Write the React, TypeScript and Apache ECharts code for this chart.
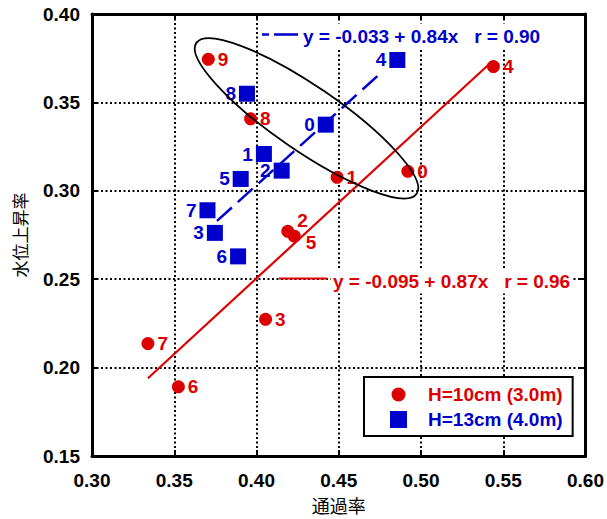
import React, { useEffect, useRef } from 'react';
import * as echarts from 'echarts';

// ---- data ----
const redIds = ['0', '1', '2', '3', '4', '5', '6', '7', '8', '9'];
const redX = [0.492, 0.449, 0.419, 0.4055, 0.544, 0.423, 0.3525, 0.334, 0.3964, 0.3707];
const redY = [0.311, 0.3076, 0.2771, 0.2273, 0.3703, 0.2743, 0.1891, 0.2136, 0.3407, 0.3744];

const blueIds = ['0', '1', '2', '3', '4', '5', '6', '7', '8'];
const blueX = [0.4421, 0.4045, 0.4153, 0.3747, 0.4856, 0.3904, 0.3888, 0.3702, 0.3942];
const blueY = [0.3374, 0.3208, 0.3114, 0.2762, 0.374, 0.3067, 0.2629, 0.289, 0.3549];

const redFitX = [0.334, 0.543];
const redFitY = [0.194, 0.373];
const blueFitX = [0.376, 0.476];
const blueFitY = [0.283, 0.367];

const redEquation = 'y = -0.095 + 0.87x   r = 0.96';
const blueEquation = 'y = -0.033 + 0.84x   r = 0.90';
const seriesNames = ['H=10cm (3.0m)', 'H=13cm (4.0m)'];
const xName = '通過率';
const yName = '水位上昇率';
const xRange = [0.3, 0.6];
const yRange = [0.15, 0.4];
const tickStep = 0.05;

// ---- styles ----
const RED = '#dd0000';
const BLUE = '#0000cc';
const FONT = '"Liberation Sans", Arial, sans-serif';
const CJK = '"Noto Sans CJK JP", sans-serif';

const labelOffsets: Record<string, number[]> = { '2': [0, -11], '5': [2, 6] };

function buildOption() {
  const redData = redIds.map((id, i) => {
    const item: any = { name: id, value: [redX[i], redY[i]] };
    if (labelOffsets[id]) item.label = { offset: labelOffsets[id] };
    return item;
  });
  const blueData = blueIds.map((id, i) => ({ name: id, value: [blueX[i], blueY[i]] }));
  const redFit = redFitX.map((x, i) => [x, redFitY[i]]);
  const blueFit = blueFitX.map((x, i) => [x, blueFitY[i]]);

  const axisLine = { show: true, onZero: false, lineStyle: { color: '#000', width: 3 } };
  const tick = { show: true, inside: true, length: 6, lineStyle: { color: '#000', width: 2 } };
  const split = { show: true, lineStyle: { color: '#000', width: 2, type: [2, 2.5] } };
  const tickLabel = {
    color: '#000',
    fontSize: 19,
    fontWeight: 'bold',
    fontFamily: FONT,
    formatter: (v: number) => v.toFixed(2),
  };

  const eqText = (text: string, color: string) => ({
    text,
    fill: color,
    fontSize: 19,
    fontWeight: 'bold',
    fontFamily: FONT,
    align: 'left',
    verticalAlign: 'middle',
    backgroundColor: '#fff',
    padding: [3, 2, 3, 2],
  });

  return {
    animation: false,
    backgroundColor: '#fff',
    grid: { left: 92, right: 18, top: 14, bottom: 62 },
    xAxis: [
      {
        type: 'value',
        min: xRange[0],
        max: xRange[1],
        interval: tickStep,
        position: 'bottom',
        axisLine,
        axisTick: tick,
        splitLine: split,
        axisLabel: { ...tickLabel, margin: 15 },
        name: xName,
        nameLocation: 'middle',
        nameGap: 40,
        nameTextStyle: { fontSize: 18, fontFamily: CJK, color: '#000' },
      },
      {
        type: 'value',
        min: xRange[0],
        max: xRange[1],
        interval: tickStep,
        position: 'top',
        axisLine,
        axisTick: tick,
        splitLine: { show: false },
        axisLabel: { show: false },
      },
    ],
    yAxis: [
      {
        type: 'value',
        min: yRange[0],
        max: yRange[1],
        interval: tickStep,
        position: 'left',
        axisLine,
        axisTick: tick,
        splitLine: split,
        axisLabel: { ...tickLabel, margin: 12 },
        name: yName,
        nameLocation: 'middle',
        nameGap: 64,
        nameTextStyle: { fontSize: 17, fontFamily: CJK, color: '#000' },
      },
      {
        type: 'value',
        min: yRange[0],
        max: yRange[1],
        interval: tickStep,
        position: 'right',
        axisLine,
        axisTick: tick,
        splitLine: { show: false },
        axisLabel: { show: false },
      },
    ],
    legend: {
      orient: 'vertical',
      left: 364,
      top: 377,
      borderColor: '#000',
      borderWidth: 2,
      borderRadius: 0,
      backgroundColor: '#fff',
      padding: [8, 10, 7, 26],
      itemGap: 6,
      itemWidth: 17,
      itemHeight: 17,
      selectedMode: false,
      textStyle: { fontSize: 19, fontWeight: 'bold', fontFamily: FONT, padding: [0, 0, 0, 16] },
      data: [
        {
          name: seriesNames[0],
          icon: 'path://M0 0M17 17M15.5 8.5A7 7 0 1 1 1.5 8.5A7 7 0 1 1 15.5 8.5Z',
          itemStyle: { color: RED },
          textStyle: { color: RED },
        },
        {
          name: seriesNames[1],
          icon: 'rect',
          itemStyle: { color: BLUE },
          textStyle: { color: BLUE },
        },
      ],
    },
    series: [
      {
        name: 'redFit',
        type: 'line',
        data: redFit,
        showSymbol: false,
        symbol: 'none',
        lineStyle: { color: RED, width: 2.2 },
        z: 1,
      },
      {
        name: 'blueFit',
        type: 'line',
        data: blueFit,
        showSymbol: false,
        symbol: 'none',
        lineStyle: { color: BLUE, width: 2.5, type: [20, 8] },
        z: 1,
      },
      {
        name: seriesNames[0],
        type: 'scatter',
        symbol: 'circle',
        symbolSize: 13,
        itemStyle: { color: RED, opacity: 1 },
        data: redData,
        label: {
          show: true,
          position: 'right',
          distance: 3,
          formatter: '{b}',
          color: RED,
          fontSize: 19,
          fontWeight: 'bold',
          fontFamily: FONT,
        },
        z: 3,
      },
      {
        name: seriesNames[1],
        type: 'scatter',
        symbol: 'rect',
        symbolSize: 16,
        itemStyle: { color: BLUE, opacity: 1 },
        data: blueData,
        label: {
          show: true,
          position: 'left',
          distance: 3,
          formatter: '{b}',
          color: BLUE,
          fontSize: 19,
          fontWeight: 'bold',
          fontFamily: FONT,
        },
        z: 3,
      },
    ],
    graphic: [
      {
        type: 'ellipse',
        x: 306.5,
        y: 118.3,
        rotation: (-34.4 * Math.PI) / 180,
        shape: { cx: 0, cy: 0, rx: 133.5, ry: 32.4 },
        style: { fill: 'none', stroke: '#000', lineWidth: 1.8 },
        z: 10,
      },
      {
        type: 'line',
        shape: { x1: 262, y1: 34.5, x2: 298, y2: 34.5 },
        style: { stroke: BLUE, lineWidth: 2.5, lineDash: [24, 5], lineDashOffset: 17 },
        z: 10,
      },
      {
        type: 'text',
        x: 301,
        y: 36,
        style: eqText(blueEquation, BLUE),
        z: 10,
      },
      {
        type: 'line',
        shape: { x1: 279, y1: 278.5, x2: 327, y2: 278.5 },
        style: { stroke: RED, lineWidth: 2.2 },
        z: 10,
      },
      {
        type: 'text',
        x: 331,
        y: 281,
        style: eqText(redEquation, RED),
        z: 10,
      },
    ],
  };
}

export default function App() {
  const ref = useRef<HTMLDivElement>(null);
  useEffect(() => {
    const el = ref.current;
    if (!el) return;
    const chart = echarts.init(el, undefined, { renderer: 'svg' });
    chart.setOption(buildOption() as any);
    return () => chart.dispose();
  }, []);
  return (
    <div
      ref={ref}
      style={{ position: 'absolute', left: 0, top: 0, width: 607, height: 519, background: '#fff' }}
    />
  );
}
